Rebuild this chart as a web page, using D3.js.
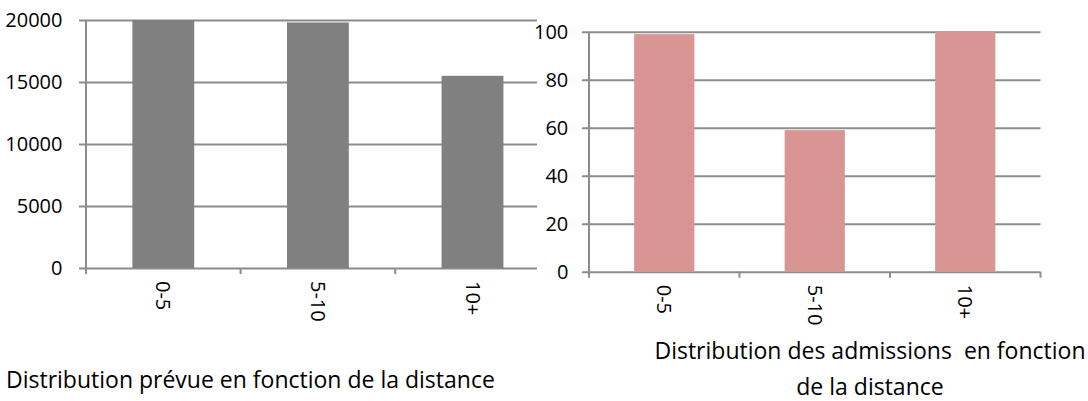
<!DOCTYPE html>
<html>
<head>
<meta charset="utf-8">
<script src="https://cdn.jsdelivr.net/npm/d3@7"></script>
<style>
  html, body { margin: 0; padding: 0; background: #fff; }
  svg { display: block; }
  text { font-family: "Open Sans", "Noto Sans", sans-serif; fill: #000; }
</style>
</head>
<body>
<svg id="chart" width="1088" height="401"></svg>
<script>
// ---- Data ----
const categories = ["0-5", "5-10", "10+"];
const expectedValues = [20000, 19800, 15500];   // Distribution prévue
const admissionValues = [99, 59, 100];          // Distribution des admissions
const leftTicks = [0, 5000, 10000, 15000, 20000];
const rightTicks = [0, 20, 40, 60, 80, 100];
const leftTitle = "Distribution prévue en fonction de la distance";
const rightTitleLines = ["Distribution des admissions  en fonction", "de la distance"];

const svg = d3.select("#chart");
const gridColor = "#8c8c8c";
const tickFont = "20px";
const titleFont = "23px";

function drawChart(cfg) {
  const g = svg.append("g");
  const x = d3.scaleBand().domain(categories).range([cfg.x0, cfg.x1])
    .paddingInner(0.6).paddingOuter(0.3);
  const y = d3.scaleLinear().domain([0, cfg.max]).range([cfg.y0, cfg.y1]);

  // gridlines + y labels
  const yAxis = d3.axisLeft(y).tickValues(cfg.ticks)
    .tickSize(-(cfg.x1 - cfg.gridStart))
    .tickPadding(cfg.labelPad)
    .tickFormat(d3.format("d"));
  const ya = g.append("g").attr("transform", `translate(${cfg.gridStart},0)`).call(yAxis);
  ya.select(".domain").remove();
  ya.selectAll(".tick line").attr("stroke", gridColor).attr("stroke-width", 2);
  ya.selectAll(".tick text").style("font-size", tickFont).attr("fill", "#000")
    .style("font-family", '"Open Sans", sans-serif');

  // bars
  g.append("g").selectAll("rect").data(cfg.values).join("rect")
    .attr("x", (d, i) => x(categories[i]))
    .attr("width", x.bandwidth())
    .attr("y", d => y(d))
    .attr("height", d => y(0) - y(d))
    .attr("fill", cfg.color);

  // y axis line
  g.append("line").attr("x1", cfg.x0).attr("x2", cfg.x0)
    .attr("y1", y(cfg.max)).attr("y2", y(0))
    .attr("stroke", gridColor).attr("stroke-width", 2);

  // x axis ticks at band boundaries
  const step = x.step();
  const bounds = categories.map(c => x(c) - step * x.paddingOuter());
  bounds.push(bounds[bounds.length - 1] + step);
  g.append("g").selectAll("line").data(bounds).join("line")
    .attr("x1", d => d).attr("x2", d => d)
    .attr("y1", y(0)).attr("y2", y(0) + 6)
    .attr("stroke", gridColor).attr("stroke-width", 2);

  // x labels rotated
  g.append("g").selectAll("text").data(categories).join("text")
    .attr("transform", d => `translate(${x(d) + x.bandwidth() / 2},${y(0) + 13}) rotate(90)`)
    .attr("dy", "0.35em")
    .style("font-size", tickFont)
    .text(d => d);
  return g;
}

// Left chart
drawChart({
  x0: 86, x1: 549.8, y0: 268, y1: 20, max: 20000,
  gridStart: 79, labelPad: 16.5, ticks: leftTicks,
  values: expectedValues, color: "#808080"
});

// Right chart area covers the overflow of the left chart
svg.append("rect").attr("x", 537).attr("y", 0).attr("width", 551).attr("height", 330)
  .attr("fill", "#fff");

drawChart({
  x0: 589, x1: 1040.5, y0: 271.7, y1: 31.7, max: 100,
  gridStart: 582, labelPad: 13.7, ticks: rightTicks,
  values: admissionValues, color: "#d99594"
});

// Titles
svg.append("text").attr("x", 6).attr("y", 388)
  .style("font-size", titleFont).text(leftTitle);

svg.append("g").selectAll("text").data(rightTitleLines).join("text")
  .attr("x", 870).attr("y", (d, i) => 359 + i * 35.5)
  .attr("text-anchor", "middle")
  .style("font-size", titleFont)
  .style("white-space", "pre")
  .text(d => d);
</script>
</body>
</html>
